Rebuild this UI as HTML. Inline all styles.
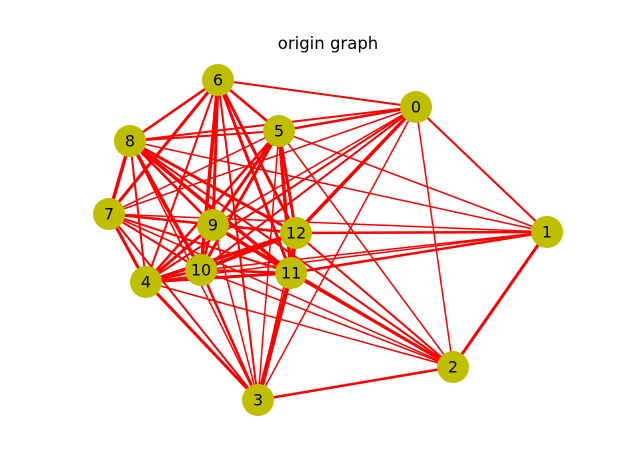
<!DOCTYPE html>
<html><head><meta charset="utf-8"><style>
html,body{margin:0;padding:0;background:#fff}
svg{display:block}
</style></head><body>
<svg id="chart" width="640" height="476" viewBox="0 0 640 476" xmlns="http://www.w3.org/2000/svg">
<text x="328" y="49" text-anchor="middle" font-family="DejaVu Sans, Liberation Sans, sans-serif" font-size="16.5">origin graph</text>
<g id="edges"></g>
<g id="nodes"></g>
</svg>
<script>
const nodeIds=[0,1,2,3,4,5,6,7,8,9,10,11,12];
const nodeX=[416,547,453,258,146,279,218,109,130,213,201,291,296];
const nodeY=[107,232,367,400,282,131,80,214,141,225,270,273,233];
const edgeFrom=[0,0,0,0,0,0,0,0,0,0,0, 1,1,1,1,1,1,1,1, 2,2,2,2,2,2,2,2,2, 3,3,3,3,3,3,3,3,3, 4,4,4,4,4,4,4,4, 5,5,5,5,5,5,5, 6,6,6,6,6,6, 7,7,7,7,7, 8,8,8,8, 9,9,9, 10,10, 11];
const edgeTo=[1,2,3,4,5,6,7,8,9,10,12, 2,4,5,7,8,10,11,12, 3,4,5,7,8,9,10,11,12, 4,5,6,7,8,9,10,11,12, 5,6,7,8,9,10,11,12, 6,7,8,9,10,11,12, 7,8,9,10,11,12, 8,9,10,11,12, 9,10,11,12, 10,11,12, 11,12, 12];
const edgeWeight=[2,1.5,1.5,2,2.5,2,1.5,2,1.5,2,3.5, 3,1.5,1.5,1.5,1.5,1.5,2.5,2.5, 2.5,1.5,1.5,1.5,2,2,1.5,3,2, 3,1.5,2,2,1.5,1.5,2.5,4.5,1.5, 2.5,2,3,2,3,2.5,3,3.5, 2.5,1.5,2,3,3,3.5,3, 3,2.5,3,3.5,3,3, 3.5,2,2,2,2.5, 2.5,3.5,3.5,3, 2.5,3.5,2.5, 2.5,3.5, 3.5];
const eg=document.getElementById('edges');
const NS='http://www.w3.org/2000/svg';
for(let i=0;i<edgeFrom.length;i++){
  const a=edgeFrom[i],b=edgeTo[i];
  const l=document.createElementNS(NS,'line');
  l.setAttribute('x1',nodeX[a]);l.setAttribute('y1',nodeY[a]);
  l.setAttribute('x2',nodeX[b]);l.setAttribute('y2',nodeY[b]);
  l.setAttribute('stroke','#ff0000');l.setAttribute('stroke-width',edgeWeight[i]);
  
  
  eg.appendChild(l);
}
const ng=document.getElementById('nodes');
for(let i=0;i<nodeIds.length;i++){
  const g=document.createElementNS(NS,'g');
  
  
  const c=document.createElementNS(NS,'circle');
  c.setAttribute('cx',nodeX[i]);c.setAttribute('cy',nodeY[i]);c.setAttribute('r',16);
  c.setAttribute('fill','#bfbf00');
  const t=document.createElementNS(NS,'text');
  t.setAttribute('x',nodeX[i]);t.setAttribute('y',nodeY[i]+5.5);
  t.setAttribute('text-anchor','middle');
  t.setAttribute('font-family','DejaVu Sans, Liberation Sans, sans-serif');
  t.setAttribute('font-size','16');
  t.textContent=nodeIds[i];
  g.appendChild(c);g.appendChild(t);ng.appendChild(g);
}
</script>
</body></html>
